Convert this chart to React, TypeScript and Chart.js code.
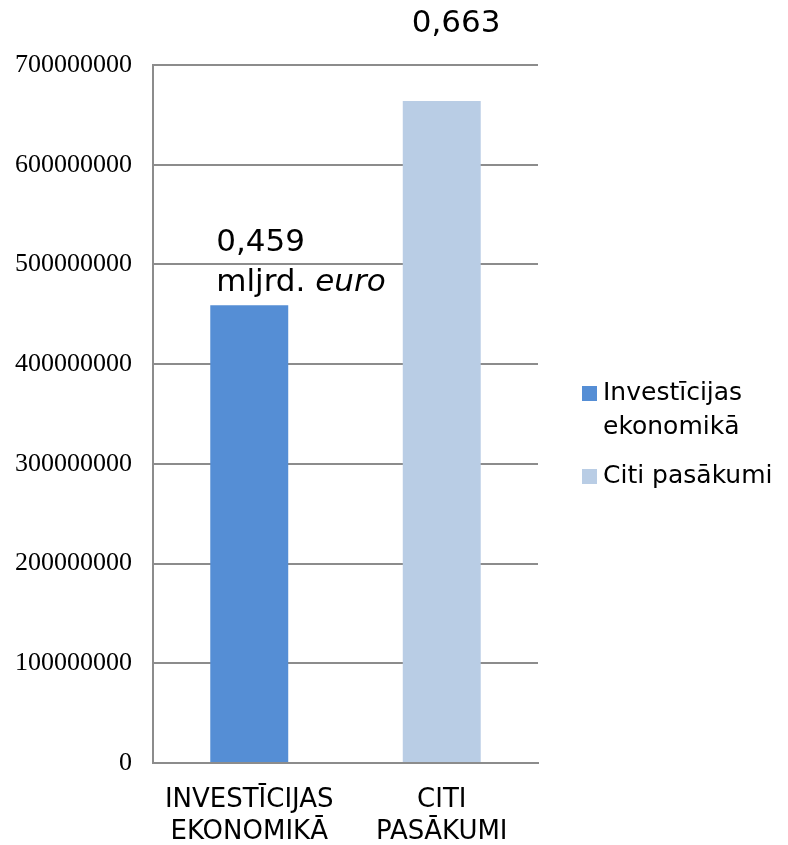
import React, { useEffect, useRef } from "react";
import { Chart, registerables } from "chart.js";

Chart.register(...registerables);

const categories: string[][] = [
  ["INVESTĪCIJAS", "EKONOMIKĀ"],
  ["CITI", "PASĀKUMI"],
];
const seriesNames: string[][] = [["Investīcijas", "ekonomikā"], ["Citi pasākumi"]];
const seriesColors = ["#558ED5", "#B9CDE5"];
const investValues: (number | null)[] = [459000000, null];
const otherValues: (number | null)[] = [null, 664000000];
const yTicks = [0, 100000000, 200000000, 300000000, 400000000, 500000000, 600000000, 700000000];

const SANS = "'DejaVu Sans', Verdana, sans-serif";
const SERIF = "'Liberation Serif', 'Times New Roman', serif";

const labelsPlugin = {
  id: "barLabels",
  afterDatasetsDraw(chart: any) {
    const ctx = chart.ctx;
    ctx.save();
    ctx.fillStyle = "#000";
    ctx.textBaseline = "middle";
    ctx.textAlign = "left";
    const b0 = chart.getDatasetMeta(0).data[0];
    const b1 = chart.getDatasetMeta(1).data[1];
    const big = "31px " + SANS;
    if (b0) {
      const x = b0.x - 33;
      const y2 = b0.y - 22;
      ctx.font = big;
      ctx.fillText("0,459", x, y2 - 40);
      const t = "mljrd. ";
      ctx.fillText(t, x, y2);
      const w = ctx.measureText(t).width;
      ctx.font = "italic " + big;
      ctx.fillText("euro", x + w, y2);
    }
    if (b1) {
      ctx.font = big;
      ctx.fillText("0,663", b1.x - 30, b1.y - 77);
    }
    // legend
    const lx = chart.chartArea.right + 44;
    const items = [
      { y: 393, lines: seriesNames[0], c: seriesColors[0] },
      { y: 476, lines: seriesNames[1], c: seriesColors[1] },
    ];
    ctx.font = "25px " + SANS;
    items.forEach((it) => {
      ctx.fillStyle = it.c;
      ctx.fillRect(lx, it.y - 7, 15, 15);
      ctx.fillStyle = "#000";
      it.lines.forEach((ln, i) => ctx.fillText(ln, lx + 21, it.y + i * 34));
    });
    ctx.restore();
  },
};

export default function App() {
  const ref = useRef<HTMLCanvasElement>(null);
  useEffect(() => {
    document.body.style.margin = "0";
    const chart = new Chart(ref.current!, {
      type: "bar",
      data: {
        labels: categories as any,
        datasets: [
          { label: seriesNames[0].join(" "), data: investValues, backgroundColor: seriesColors[0] },
          { label: seriesNames[1].join(" "), data: otherValues, backgroundColor: seriesColors[1] },
        ],
      },
      options: {
        animation: false,
        responsive: false,
        skipNull: true,
        categoryPercentage: 1,
        barPercentage: 0.405,
        layout: { padding: { left: 0, right: 250, top: 65, bottom: 0 } },
        plugins: { legend: { display: false }, tooltip: { enabled: false } },
        scales: {
          x: {
            grid: { display: false, drawTicks: false },
            border: { display: true, color: "#8C8C8C", width: 2 },
            ticks: { color: "#000", font: { family: SANS, size: 26, lineHeight: 1.23 }, padding: 21, maxRotation: 0, autoSkip: false },
            afterFit(s: any) { s.height = 82; },
          },
          y: {
            min: 0,
            max: 700000000,
            afterBuildTicks(s: any) { s.ticks = yTicks.map((v) => ({ value: v })); },
            grid: { color: "#8C8C8C", lineWidth: 2, drawTicks: false },
            border: { display: true, color: "#8C8C8C", width: 2 },
            ticks: { color: "#000", font: { family: SERIF, size: 26 }, padding: 21, callback: (v: any) => String(v) },
            afterFit(s: any) { s.width = 153; },
          },
        },
      } as any,
      plugins: [labelsPlugin],
    });
    return () => chart.destroy();
  }, []);
  return (
    <div style={{ width: 788, height: 845 }}>
      <canvas ref={ref} width={788} height={845} style={{ display: "block" }} />
    </div>
  );
}
